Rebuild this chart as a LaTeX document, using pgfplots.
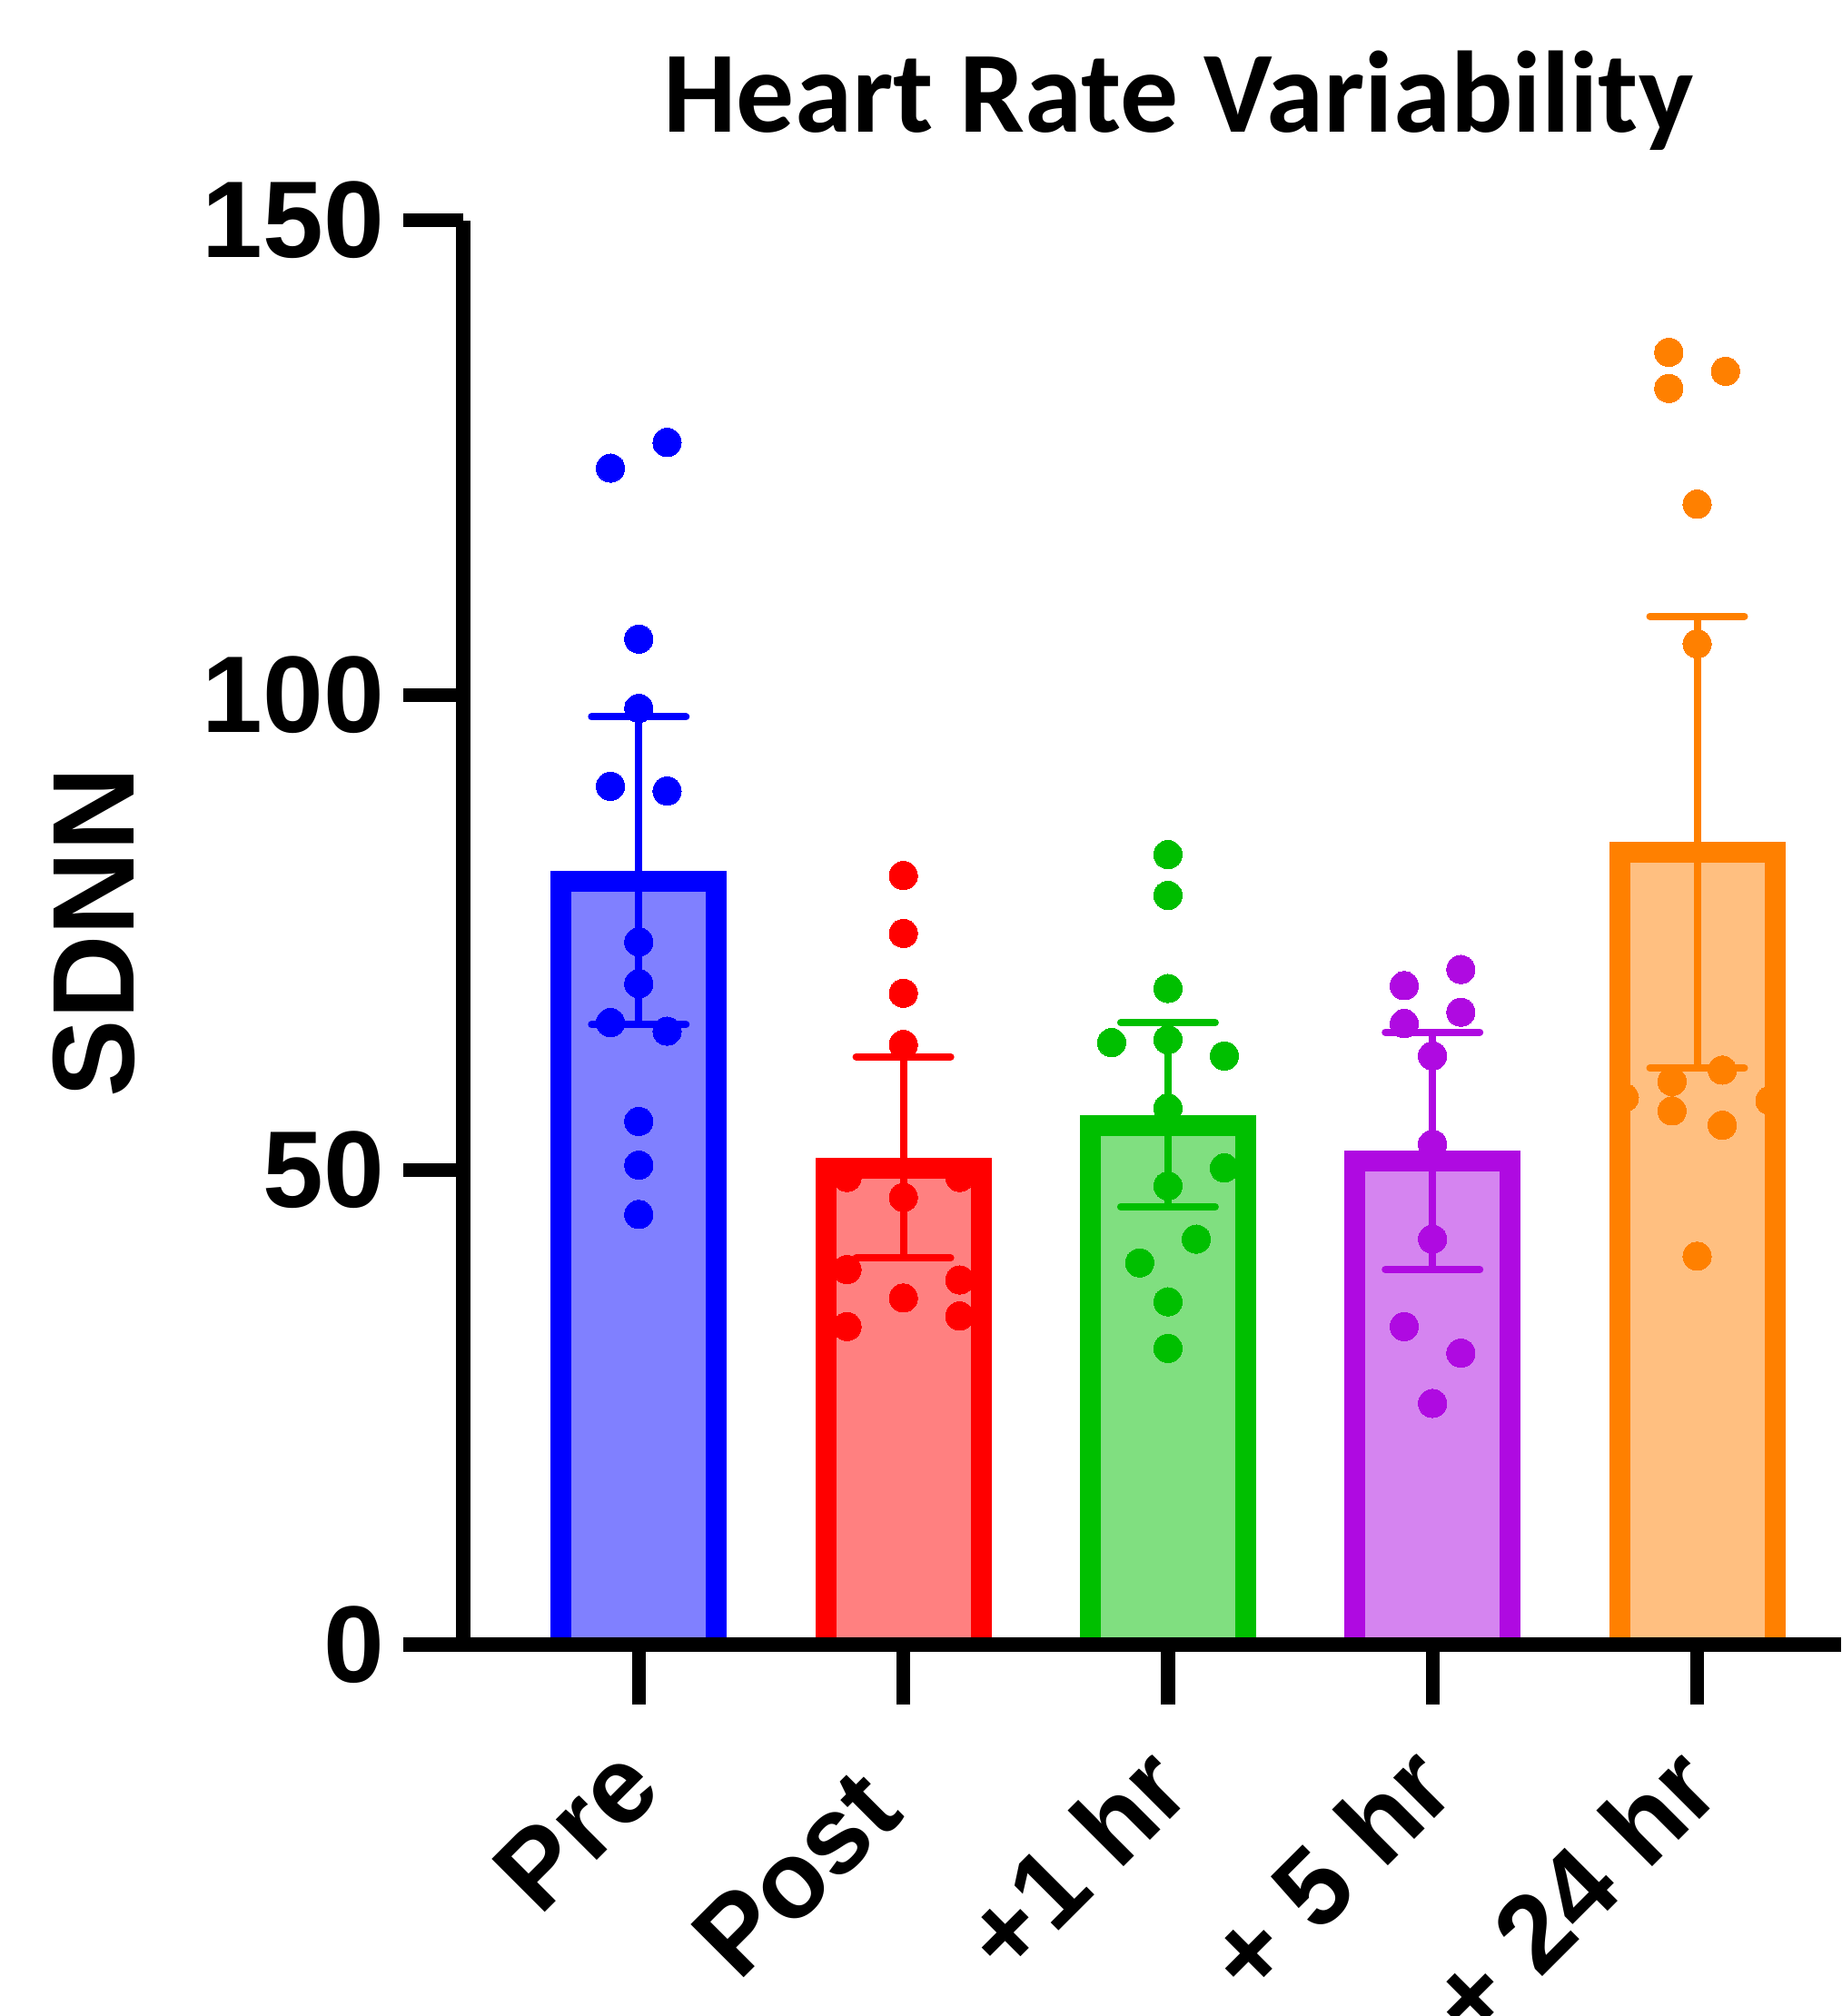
\documentclass[border=0pt]{standalone}
\usepackage{pgfplots}
\pgfplotsset{compat=1.18}
\usepackage{pgfplotstable}
\usepackage{fontspec}
\setmainfont{Liberation Sans}
\newfontfamily\titlefont{Carlito}

\definecolor{cB}{RGB}{0,0,255}\definecolor{cBf}{RGB}{128,128,255}
\definecolor{cR}{RGB}{255,0,0}\definecolor{cRf}{RGB}{255,128,128}
\definecolor{cG}{RGB}{0,191,0}\definecolor{cGf}{RGB}{128,223,128}
\definecolor{cP}{RGB}{175,10,225}\definecolor{cPf}{RGB}{213,132,240}
\definecolor{cO}{RGB}{255,128,0}\definecolor{cOf}{RGB}{255,191,128}

\pgfplotstableread{
x y
-0.107 123.9
0.107 126.6
0 105.9
0 98.6
-0.107 90.4
0.107 89.9
0 74.0
0 69.6
-0.107 65.5
0.107 64.6
0 55.1
0 50.5
0 45.3
}\preData
\pgfplotstableread{
x y
1 81.0
1 74.9
1 68.6
1 63.2
0.787 49.2
1.213 49.2
1 47.1
0.787 39.5
1.213 38.4
1 36.5
0.787 33.5
1.213 34.6
}\postData
\pgfplotstableread{
x y
2 83.2
2 78.9
2 69.1
1.787 63.4
2 63.7
2.213 62.0
2 56.5
2.213 50.2
2 48.3
2.107 42.7
1.893 40.2
2 36.1
2 31.2
}\oneData
\pgfplotstableread{
x y
3.107 71.1
2.893 69.4
3.107 66.6
2.893 65.4
3 62.0
3 52.7
3 42.7
2.893 33.5
3.107 30.7
3 25.4
}\fiveData
\pgfplotstableread{
x y
3.893 136.1
4.107 134.1
3.893 132.3
4 120.1
4 105.4
4.095 60.5
3.905 59.3
3.725 57.6
4.275 57.3
3.905 56.2
4.095 54.7
4 40.9
}\tfData

\pgfplotsset{
  dots/.style={only marks, mark=*, mark size=3.9pt, color=#1, mark options={fill=#1, draw=#1, line width=0pt}},
  sembar/.style={draw=none, mark=none, forget plot, error bars/.cd, y dir=both, y explicit,
     error bar style={draw=#1, line width=2pt},
     error mark options={draw=#1, line width=2pt, mark size=13pt, line cap=round, rotate=90}},
  hbar/.style 2 args={ybar, bar width=42.75pt, bar shift=0pt, yshift=-2.875pt, fill=#2, draw=#1, line width=5.75pt},
}

\begin{document}
\begin{tikzpicture}
\begin{axis}[name=ax, scale only axis, width=379.25pt, height=392.1pt,
  xmin=-0.6636, xmax=4.544, ymin=0, ymax=150,
  axis lines*=left, axis on top,
  axis line style={line width=3.9pt, line cap=butt},
  xtick={0,1,2,3,4}, xticklabels={Pre,{Post\kern9pt},+1 hr,+ 5 hr,+ 24 hr},
  ytick={0,50,100,150},
  tick align=outside, major tick length=16.5pt,
  major tick style={line width=3.85pt, black},
  tick label style={font=\fontsize{30}{36}\selectfont\bfseries},
  /pgf/number format/assume math mode=true,
  yticklabel style={anchor=east, inner sep=0pt, xshift=-5pt},
  xticklabel style={anchor=east, rotate=45, inner sep=0pt},
  xticklabel shift=17pt,
  ylabel={SDNN},
  every axis y label/.style={at={(axis description cs:-0.2388,0.5)}, rotate=90, anchor=base, inner sep=0pt, font=\fontsize{32}{38}\selectfont\bfseries},
  title={Heart Rate Variability},
  every axis title/.style={at={(axis description cs:0.519,1.0616)}, anchor=base, inner sep=0pt, font=\titlefont\fontsize{31.9}{36}\selectfont\bfseries},
]
% bars
\addplot[hbar={cB}{cBf}] coordinates {(0,81.5)};
\addplot[hbar={cR}{cRf}] coordinates {(1,51.3)};
\addplot[hbar={cG}{cGf}] coordinates {(2,55.8)};
\addplot[hbar={cP}{cPf}] coordinates {(3,52.0)};
\addplot[hbar={cO}{cOf}] coordinates {(4,84.5)};
% dots
\addplot[dots=cB] table {\preData};
\addplot[dots=cR] table {\postData};
\addplot[dots=cG] table {\oneData};
\addplot[dots=cP] table {\fiveData};
\addplot[dots=cO] table {\tfData};
% error bars
\addplot[sembar=cB] coordinates {(0,81.5) +- (0,16.2)};
\addplot[sembar=cR] coordinates {(1,51.3) +- (0,10.6)};
\addplot[sembar=cG] coordinates {(2,55.8) +- (0,9.7)};
\addplot[sembar=cP] coordinates {(3,52.0) +- (0,12.5)};
\addplot[sembar=cO] coordinates {(4,84.5) +- (0,23.8)};
\end{axis}
\pgfresetboundingbox
\path[use as bounding box] ([shift={(-127.5pt,-102.25pt)}]ax.south west) rectangle ([shift={(379.25pt,452.75pt)}]ax.south west);
\end{tikzpicture}
\end{document}
